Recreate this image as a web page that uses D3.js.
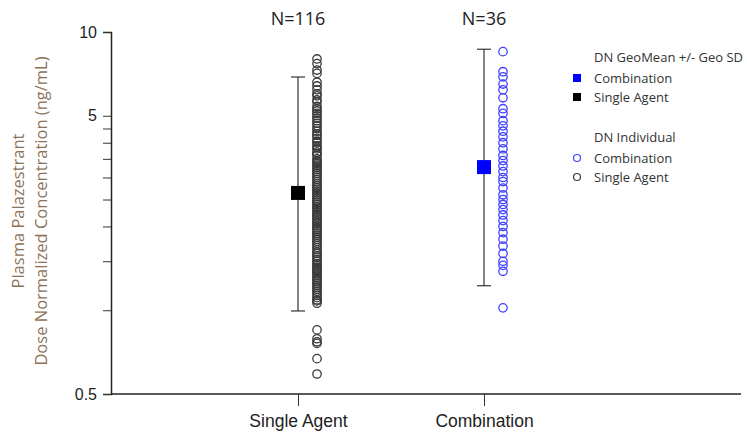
<!DOCTYPE html>
<html><head><meta charset="utf-8">
<script src="https://cdn.jsdelivr.net/npm/d3@7"></script>
<style>body{margin:0;background:#fff}svg{display:block;font-family:"Open Sans",sans-serif}</style>
</head><body><svg id="c" width="747" height="437"></svg>
<script>
const categories = ["Single Agent", "Combination"];
const nLabels = ["N=116", "N=36"];
const singleAgent = [
8.0, 7.7, 7.3, 7.1, 6.6, 6.4, 6.2, 6.0, 5.9, 5.7,
5.6, 5.4, 5.3, 5.2, 5.1, 5.0, 4.9, 4.8, 4.7, 4.6,
4.5, 4.4, 4.3, 4.25, 4.15, 4.05, 4.0, 3.9, 3.85, 3.8,
3.7, 3.65, 3.6, 3.5, 3.45, 3.4, 3.35, 3.3, 3.25, 3.2,
3.15, 3.1, 3.05, 3.0, 2.95, 2.9, 2.85, 2.8, 2.76, 2.72,
2.68, 2.64, 2.6, 2.56, 2.52, 2.48, 2.44, 2.4, 2.36, 2.33,
2.3, 2.26, 2.22, 2.19, 2.16, 2.13, 2.1, 2.07, 2.04, 2.01,
1.98, 1.95, 1.92, 1.89, 1.86, 1.83, 1.8, 1.77, 1.74, 1.71,
1.68, 1.65, 1.62, 1.6, 1.57, 1.55, 1.52, 1.5, 1.47, 1.45,
1.43, 1.41, 1.39, 1.37, 1.35, 1.33, 1.31, 1.29, 1.27, 1.25,
1.23, 1.21, 1.19, 1.17, 1.15, 1.13, 1.11, 1.09, 1.08, 1.06,
0.85, 0.79, 0.77, 0.76, 0.67, 0.59];
const combination = [
8.5, 7.2, 6.9, 6.5, 6.2, 5.8, 5.3, 5.1, 4.8, 4.6,
4.4, 4.2, 4.0, 3.8, 3.6, 3.45, 3.3, 3.15, 3.0, 2.9,
2.75, 2.6, 2.5, 2.4, 2.3, 2.2, 2.1, 2.0, 1.9, 1.8,
1.7, 1.6, 1.5, 1.45, 1.38, 1.02];
const geoMean = [2.64, 3.27];
const geoUpper = [6.89, 8.67];
const geoLower = [0.994, 1.225];
const yTickValues = [10, 5, 4.5, 4, 3.5, 3, 2.5, 2, 1.5, 1, 0.5];
const yTickLabels = {10: "10", 5: "5", 0.5: "0.5"};
const colors = ["#000000", "#0000ff"];
const circleColors = ["#3a3a3a", "#4040ff"];

const svg = d3.select("#c");
const y = d3.scaleLog().domain([0.5, 10]).range([394, 32]);
const x = d3.scalePoint().domain(categories).range([298, 484]);
const ptOffset = 19;
const xLeft = 111, xRight = 741;

// axes
const yAxis = d3.axisLeft(y).tickValues(yTickValues).tickSize(8)
  .tickFormat(d => yTickLabels[d] || "");
const gy = svg.append("g").attr("transform", `translate(${xLeft},0)`).call(yAxis);
gy.select(".domain").attr("stroke", "#222").attr("stroke-width", 1.5);
gy.selectAll(".tick line").attr("stroke", "#333");
gy.selectAll(".tick text").attr("font-size", 16).attr("fill", "#222").attr("x", -14);

const xAxis = d3.axisBottom(x).tickSize(12).tickSizeOuter(0);
const gx = svg.append("g").attr("transform", `translate(0,394)`).call(xAxis);
gx.select(".domain").attr("d", `M${xLeft},0H${xRight}`).attr("stroke", "#222").attr("stroke-width", 1.5);
gx.selectAll(".tick line").attr("stroke", "#333");
gx.selectAll(".tick text").attr("font-size", 17.5).attr("fill", "#222").attr("dy", "1.0em");

// y label
const yl = svg.append("text").attr("transform", "translate(0,211) rotate(-90)")
  .attr("text-anchor", "middle").attr("font-size", 16.5).attr("fill", "#8c7358");
yl.append("tspan").attr("x", 0).attr("y", 24).text("Plasma Palazestrant");
yl.append("tspan").attr("x", 0).attr("y", 47).text("Dose Normalized Concentration (ng/mL)");

// N labels
svg.selectAll("text.n").data(categories).join("text").attr("class", "n")
  .attr("x", d => x(d)).attr("y", 25).attr("text-anchor", "middle")
  .attr("font-size", 18).attr("fill", "#222").text((d, i) => nLabels[i]);

// individual points
const series = [singleAgent, combination];
series.forEach((vals, i) => {
  svg.append("g").selectAll("circle").data(vals).join("circle")
    .attr("cx", x(categories[i]) + ptOffset).attr("cy", d => y(d)).attr("r", 4.2)
    .attr("fill", "none").attr("stroke", circleColors[i]).attr("stroke-width", 1.3);
});

// error bars + means
categories.forEach((c, i) => {
  const cx = x(c);
  const g = svg.append("g").attr("stroke", "#333").attr("stroke-width", 1.2);
  g.append("line").attr("x1", cx).attr("x2", cx).attr("y1", y(geoUpper[i])).attr("y2", y(geoLower[i]));
  g.append("line").attr("x1", cx - 7).attr("x2", cx + 7).attr("y1", y(geoUpper[i])).attr("y2", y(geoUpper[i]));
  g.append("line").attr("x1", cx - 7).attr("x2", cx + 7).attr("y1", y(geoLower[i])).attr("y2", y(geoLower[i]));
  svg.append("rect").attr("x", cx - 7).attr("y", y(geoMean[i]) - 7).attr("width", 14).attr("height", 14)
    .attr("fill", colors[i]);
});

// legend
const lg = svg.append("g").attr("font-size", 13).attr("fill", "#333");
lg.append("text").attr("x", 594).attr("y", 62).text("DN GeoMean +/- Geo SD");
const legMean = [["Combination", 1, 78], ["Single Agent", 0, 97]];
legMean.forEach(([t, i, yy]) => {
  lg.append("rect").attr("x", 573).attr("y", yy - 4).attr("width", 8).attr("height", 8).attr("fill", colors[i]);
  lg.append("text").attr("x", 594).attr("y", yy + 4.5).text(t);
});
lg.append("text").attr("x", 594).attr("y", 142).text("DN Individual");
const legInd = [["Combination", 1, 158], ["Single Agent", 0, 177]];
legInd.forEach(([t, i, yy]) => {
  lg.append("circle").attr("cx", 577).attr("cy", yy).attr("r", 3.5).attr("fill", "none")
    .attr("stroke", circleColors[i]).attr("stroke-width", 1.2);
  lg.append("text").attr("x", 594).attr("y", yy + 4.5).text(t);
});
</script></body></html>
